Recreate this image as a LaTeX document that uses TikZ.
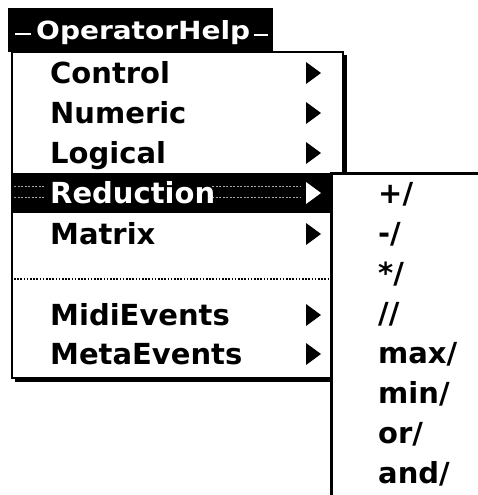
\documentclass[tikz,border=0pt]{standalone}
\usepackage{fontspec}
\setmainfont{DejaVu Sans}
\begin{document}
\begin{tikzpicture}[x=1pt,y=-1pt,
  item/.style={anchor=base west, inner sep=0pt, font=\bfseries\fontsize{29}{29}\selectfont},
  hiitem/.style={item, text=white},
  titletext/.style={anchor=base west, inner sep=0pt, text=white, font=\bfseries\fontsize{25}{25}\selectfont},
  frameline/.style={draw=black, line width=2.5pt},
  dither/.style={draw=gray!70, line width=0.8pt, dash pattern=on 2pt off 1.5pt},
  subarrow/.pic={\fill (0,-11) -- (15,0) -- (0,11) -- cycle;}]
\useasboundingbox (0,0) rectangle (478,495);

% menu title in the menu bar
\fill (8,8) rectangle (273,52);
\node[titletext] (title) at (36,40) {\scalebox{1.12}[1]{OperatorHelp}};
\draw[white, line width=1.2pt] (15,34) -- (31,34);
\draw[white, line width=1.2pt] (254,35) -- (268,35);

% pull-down menu: shadow, panel, frame
\fill (15,55) rectangle (347,382);
\fill[white] (12,52) rectangle (343,378);
\draw[frameline] (12,52) rectangle (343,378);

% highlighted entry
\fill (12,173) rectangle (332,213);
\draw[dither] (14,186) -- (44,186);
\draw[dither] (14,197) -- (44,197);
\draw[dither] (212,186) -- (300,186);
\draw[dither] (212,197) -- (300,197);

% menu entries
\node[item] (control) at (50,83) {Control};
\node[item] (numeric) at (50,123) {Numeric};
\node[item] (logical) at (50,163) {Logical};
\node[hiitem] (reduction) at (50,203) {Reduction};
\node[item] (matrix) at (50,244) {Matrix};
\node[item] (midi) at (50,325) {MidiEvents};
\node[item] (meta) at (50,364) {MetaEvents};

% separator
\draw[line width=1.6pt, dash pattern=on 1.6pt off 1.6pt] (14,279) -- (329,279);

% submenu markers
\pic at (306,73) {subarrow};
\pic at (306,113) {subarrow};
\pic at (306,153) {subarrow};
\pic[white] at (306,193) {subarrow};
\pic at (306,234) {subarrow};
\pic at (306,315) {subarrow};
\pic at (306,354) {subarrow};

% hierarchical submenu
\fill[white] (331,173) rectangle (480,497);
\draw[black, line width=3pt] (331,497) -- (331,173) -- (480,173);

\node[item] (plus) at (378,203) {+/};
\node[item] (minus) at (378,243) {-/};
\node[item] (times) at (378,283) {*/};
\node[item] (divide) at (378,323) {//};
\node[item] (max) at (378,363) {max/};
\node[item] (min) at (378,403) {min/};
\node[item] (or) at (378,443) {or/};
\node[item] (and) at (378,483) {and/};
\end{tikzpicture}
\end{document}
